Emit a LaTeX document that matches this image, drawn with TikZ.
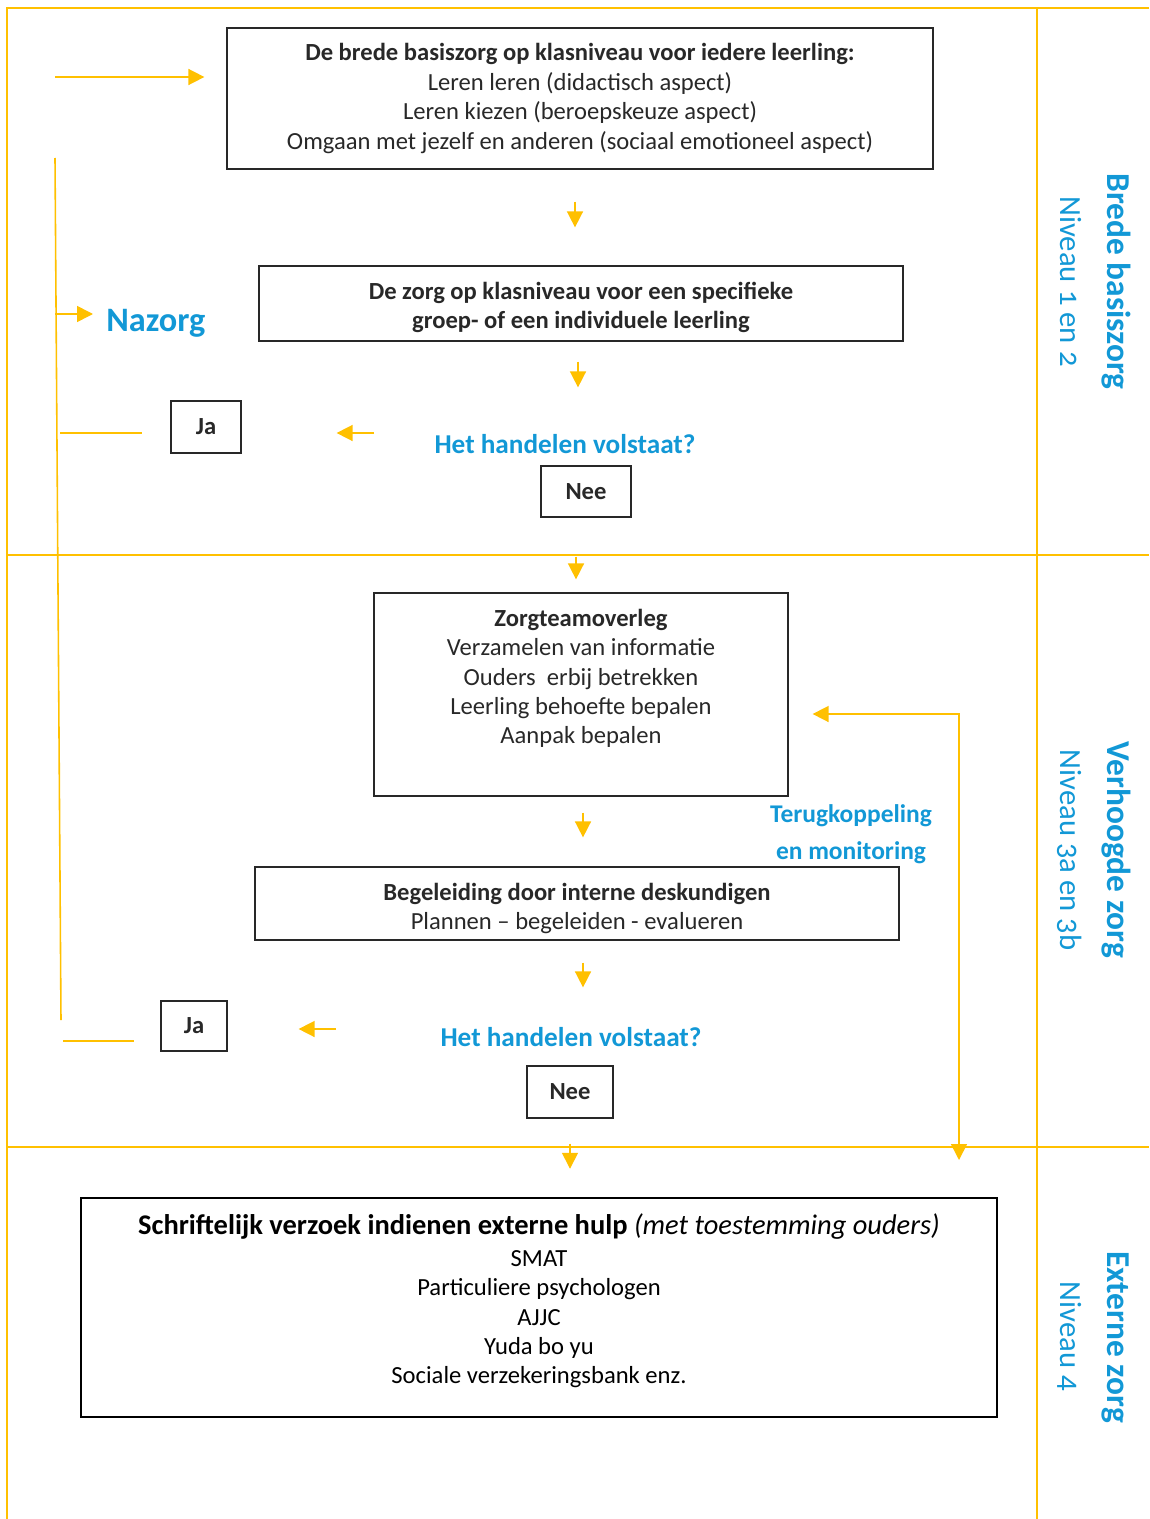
\documentclass[tikz,border=0pt]{standalone}
\usepackage{fontspec}
\setmainfont{Carlito}
\usepackage{tikz}
\usetikzlibrary{arrows.meta}
\definecolor{geel}{RGB}{255,192,0}
\definecolor{blauw}{RGB}{18,152,214}
\definecolor{tekst}{RGB}{40,40,40}
\newcommand{\kaderfont}{\fontsize{14}{16.7}\selectfont}
\tikzset{kader/.style={draw=tekst, line width=0.7pt, text=tekst, align=center, inner sep=0pt, font=\kaderfont}}
\tikzset{vetkader/.style={kader, font=\bfseries\kaderfont}}
\tikzset{kadertekst/.style={text=tekst, align=center, inner sep=0pt, font=\kaderfont}}
\tikzset{punt/.tip={Triangle[length=3.2mm,width=3.2mm]}}
\tikzset{pijl/.style={draw=geel, line width=0.9pt, -punt}}
\tikzset{lijn/.style={draw=geel, line width=0.9pt}}
\tikzset{rand/.style={draw=geel, line width=1.2pt}}
\tikzset{vraag/.style={text=blauw, inner sep=0pt, font=\bfseries\fontsize{15.5}{18}\selectfont}}
\tikzset{zijkop/.style={text=blauw, inner sep=0pt, rotate=-90, anchor=base, font=\bfseries\fontsize{19}{22}\selectfont}}
\tikzset{zijniveau/.style={text=blauw, inner sep=0pt, rotate=-90, anchor=base, font=\fontsize{17.5}{20}\selectfont\addfontfeatures{Numbers=OldStyle}}}

\begin{document}
\begin{tikzpicture}[x=0.2mm,y=-0.2mm]
\useasboundingbox (0,0) rectangle (1149,1519);
% kolommen en rijen
\draw[rand] (1149,8) -- (7,8) -- (7,1519);
\draw[rand] (1037,8) -- (1037,1519);
\draw[rand] (7,555) -- (1149,555);
\draw[rand] (7,1147) -- (1149,1147);
% niveau 1 en 2
\node[kader, minimum width=141.2mm, minimum height=28.2mm] (basis) at (580,98.5) {\textbf{De brede basiszorg op klasniveau voor iedere leerling:}\\Leren leren (didactisch aspect)\\Leren kiezen (beroepskeuze aspect)\\Omgaan met jezelf en anderen (sociaal emotioneel aspect)};
\node[kader, minimum width=128.8mm, minimum height=15mm] (specifiek) at (581,303.5) {};
\node[kadertekst, font=\bfseries\kaderfont] (specifiektekst) at (581,307.5) {De zorg op klasniveau voor een specifieke\\groep- of een individuele leerling};
\node[vraag, anchor=base] (vraag1) at (565,453) {Het handelen volstaat?};
\node[vetkader, minimum width=14mm, minimum height=10.4mm] (ja1) at (206,427) {Ja};
\node[vetkader, minimum width=18mm, minimum height=10.2mm] (nee1) at (586,491.5) {Nee};
\node[text=blauw, inner sep=0pt, anchor=base west, font=\bfseries\fontsize{19.5}{22}\selectfont] (nazorg) at (106,331) {Nazorg};
% niveau 3a en 3b
\node[kader, minimum width=82.8mm, minimum height=40.6mm] (overleg) at (581,694.5) {};
\node[kadertekst] (overlegtekst) at (581,678.5) {\textbf{Zorgteamoverleg}\\Verzamelen van informatie\\Ouders\ \ erbij betrekken\\Leerling behoefte bepalen\\Aanpak bepalen};
\node[kader, minimum width=128.8mm, minimum height=14.6mm] (intern) at (577,903.5) {};
\node[kadertekst] (interntekst) at (577,908.5) {\textbf{Begeleiding door interne deskundigen}\\Plannen -- begeleiden - evalueren};
\node[text=blauw, align=center, inner sep=0pt, font=\bfseries\fontsize{14.5}{21}\selectfont] (terugkoppeling) at (851,834) {Terugkoppeling\\en monitoring};
\node[vraag, anchor=base] (vraag2) at (571,1046) {Het handelen volstaat?};
\node[vetkader, minimum width=13.2mm, minimum height=10mm] (ja2) at (194,1026) {Ja};
\node[vetkader, minimum width=17.2mm, minimum height=10.4mm] (nee2) at (570,1092) {Nee};
% niveau 4
\node[kader, draw=black, line width=1.4pt, minimum width=183.2mm, minimum height=43.8mm] (extern) at (539,1307.5) {};
\node[kadertekst, text=black] (externtekst) at (539,1301) {{\bfseries\fontsize{16.2}{19}\selectfont Schriftelijk verzoek indienen externe hulp \itshape\mdseries(met toestemming ouders)}\\[1.5pt]SMAT\\Particuliere psychologen\\AJJC\\Yuda bo yu\\Sociale verzekeringsbank enz.};
% zijkolom
\node[zijkop] (kop1) at (1107,281.5) {Brede basiszorg};
\node[zijniveau] (niveau1) at (1060,281.5) {Niveau 1 en 2};
\node[zijkop] (kop2) at (1107,850) {Verhoogde zorg};
\node[zijniveau] (niveau2) at (1060,850) {Niveau 3a en 3b};
\node[zijkop] (kop3) at (1107,1337) {Externe zorg};
\node[zijniveau] (niveau3) at (1060,1336.5) {Niveau 4};
% pijlen
\draw[pijl, shorten <=6.4mm, shorten >=7.6mm] ([xshift=-1mm]basis.south) -- ([xshift=-1mm]basis.south |- specifiek.north);
\draw[pijl, shorten <=4mm, shorten >=15.6mm] ([xshift=-0.6mm]specifiek.south) -- ([xshift=-0.6mm]specifiek.south |- nee1.north);
\draw[pijl, shorten <=7.8mm, shorten >=2.6mm] ([xshift=-2mm]nee1.south) -- ([xshift=-2mm]nee1.south |- overleg.north);
\draw[pijl, shorten <=3.2mm, shorten >=5.8mm] ([xshift=0.4mm]overleg.south) -- ([xshift=0.4mm]overleg.south |- intern.north);
\draw[pijl, shorten <=4.4mm, shorten >=15.6mm] ([xshift=1.2mm]intern.south) -- ([xshift=1.2mm]intern.south |- nee2.north);
\draw[pijl, shorten <=5mm, shorten >=5.6mm] (nee2.south) -- (nee2.south |- extern.north);
\draw[pijl, shorten <=12mm, shorten >=19mm] ([yshift=-1.2mm]vraag1.west |- ja1.east) -- ([yshift=-1.2mm]ja1.east);
\draw[pijl, shorten <=20.8mm, shorten >=14.2mm] ([yshift=-0.6mm]vraag2.west |- ja2.east) -- ([yshift=-0.6mm]ja2.east);
% terugkoppeling
\coordinate (fbonder) at (959,1160);
\coordinate (fbboven) at (959,714);
\draw[pijl, punt-punt, shorten >=4.8mm] (fbonder) -- (fbboven) -- (fbboven -| overleg.east);
% nazorg lus
\coordinate (lusboven) at (55,158);
\coordinate (lusonder) at (61,1020);
\coordinate (lusstart) at (55,77);
\coordinate (nazorgpijl) at (55,314);
\coordinate (jalijn1) at (60,433);
\coordinate (jalijn2) at (63,1041);
\draw[lijn] (lusboven) -- (lusonder);
\draw[pijl, shorten >=4.4mm] (lusstart) -- (lusstart -| basis.west);
\draw[pijl, shorten >=2.6mm] (nazorgpijl) -- (nazorgpijl -| nazorg.west);
\draw[lijn, shorten >=5.6mm] (jalijn1) -- (jalijn1 -| ja1.west);
\draw[lijn, shorten >=5.2mm] (jalijn2) -- (jalijn2 -| ja2.west);
\end{tikzpicture}
\end{document}
